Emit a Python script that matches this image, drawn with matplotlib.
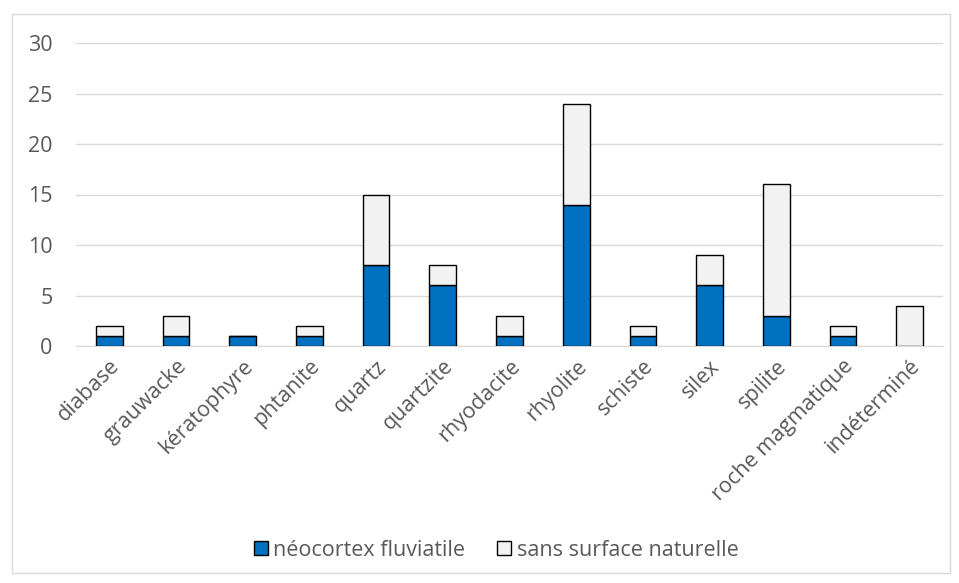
import matplotlib
matplotlib.use("Agg")
import matplotlib.pyplot as plt
from matplotlib.patches import Rectangle

categories = ["diabase", "grauwacke", "kératophyre", "phtanite", "quartz", "quartzite",
              "rhyodacite", "rhyolite", "schiste", "silex", "spilite",
              "roche magmatique", "indéterminé"]
neocortex = [1, 1, 1, 1, 8, 6, 1, 14, 1, 6, 3, 1, 0]
sans_surface = [1, 2, 0, 1, 7, 2, 2, 10, 1, 3, 13, 1, 4]
series_names = ["néocortex fluviatile", "sans surface naturelle"]
yticks = [0, 5, 10, 15, 20, 25, 30]

plt.rcParams['font.family'] = ['Open Sans', 'DejaVu Sans']
txt = "#595959"
fs = 15.5

fig = plt.figure(figsize=(9.59, 5.83), dpi=100)
fig.patches.append(Rectangle((12/959, 1-573/583), 938/959, 559/583, transform=fig.transFigure,
                             fill=False, edgecolor="#d9d9d9", linewidth=1))
ax = fig.add_axes([76/959, 1-346/583, (943-76)/959, (346-43)/583])
x = range(len(categories))
ax.bar(x, neocortex, width=0.4, color="#0070c0", edgecolor="black", linewidth=1,
       label=series_names[0], zorder=3)
ax.bar(x, sans_surface, width=0.4, bottom=neocortex, color="#f2f2f2", edgecolor="black",
       linewidth=1, label=series_names[1], zorder=3)
ax.set_xlim(-0.5, len(categories) - 0.5)
ax.set_ylim(0, 30)
ax.set_yticks(yticks)
ax.yaxis.grid(True, color="#d9d9d9", linewidth=1)
ax.set_axisbelow(True)
for s in ["top", "right", "left"]:
    ax.spines[s].set_visible(False)
ax.spines["bottom"].set_color("#d9d9d9")
ax.tick_params(axis="y", length=0, labelsize=fs, labelcolor=txt, pad=17)
ax.tick_params(axis="x", length=0, labelsize=fs, labelcolor=txt, pad=7)
ax.set_xticks(list(x))
ax.set_xticklabels(categories, rotation=45, ha="right", rotation_mode="anchor")
leg = fig.legend(loc="center", bbox_to_anchor=(496/959, 1-550/583), ncol=2, frameon=False,
                 fontsize=fs, handlelength=0.65, handleheight=0.65, columnspacing=1.5,
                 handletextpad=0.25)
for t in leg.get_texts():
    t.set_color(txt)
fig.savefig("out.png", dpi=100)
